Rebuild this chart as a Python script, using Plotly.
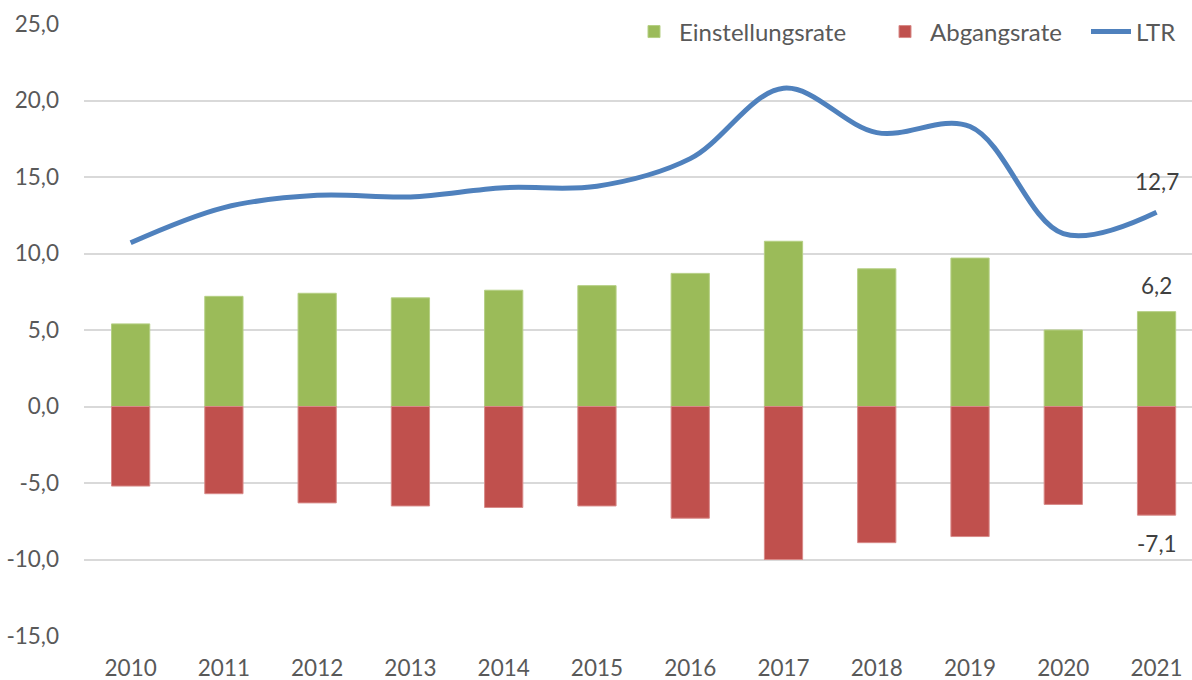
import plotly.graph_objects as go

years = ["2010", "2011", "2012", "2013", "2014", "2015", "2016", "2017", "2018", "2019", "2020", "2021"]
einstellungsrate = [5.4, 7.2, 7.4, 7.1, 7.6, 7.9, 8.7, 10.8, 9.0, 9.7, 5.0, 6.2]
abgangsrate = [-5.2, -5.7, -6.3, -6.5, -6.6, -6.5, -7.3, -10.0, -8.9, -8.5, -6.4, -7.1]
ltr = [10.7, 13.0, 13.8, 13.7, 14.3, 14.4, 16.2, 20.8, 17.9, 18.3, 11.3, 12.7]
y_tick_values = [-15, -10, -5, 0, 5, 10, 15, 20, 25]
y_tick_labels = ["-15,0", "-10,0", "-5,0", "0,0", "5,0", "10,0", "15,0", "20,0", "25,0"]

FAM = "Lato, Open Sans, sans-serif"
font = dict(family=FAM, size=22.5, color="#595959")
legfont = dict(family=FAM, size=24, color="#595959")
lfont = dict(family=FAM, size=22.5, color="#404040")

fig = go.Figure()
fig.add_trace(go.Bar(
    x=years, y=einstellungsrate, name="Einstellungsrate", legend="legend",
    marker=dict(color="#9BBB59", line=dict(color="#B5CF84", width=1)),
))
fig.add_trace(go.Bar(
    x=years, y=abgangsrate, name="Abgangsrate", legend="legend2",
    marker=dict(color="#C0504D", line=dict(color="#D88A88", width=1)),
))
fig.add_trace(go.Scatter(
    x=years, y=ltr, name="LTR", mode="lines", legend="legend3",
    line=dict(color="#4F81BD", width=5, shape="spline", smoothing=1.0),
))

def fmt(v):
    return f"{v:.1f}".replace(".", ",")

last = len(years) - 1
annos = [
    dict(y=ltr[-1], text=fmt(ltr[-1]), yshift=31),
    dict(y=einstellungsrate[-1], text=fmt(einstellungsrate[-1]), yshift=26),
    dict(y=abgangsrate[-1], text=fmt(abgangsrate[-1]), yshift=-28),
]
for a in annos:
    fig.add_annotation(x=last, **a, showarrow=False, font=lfont,
                       xanchor="center", yanchor="middle")

L, R = 84, 1192
def px(x):
    return (x - L) / (R - L)

leg_common = dict(orientation="h", xanchor="left", y=0.987, yanchor="middle",
                  bgcolor="white", font=legfont, itemwidth=40)

fig.update_layout(
    width=1192, height=680,
    margin=dict(l=L, r=0, t=24, b=44, autoexpand=False),
    paper_bgcolor="white", plot_bgcolor="white",
    barmode="relative", bargap=0.59,
    separators=",.",
    font=font,
    showlegend=True,
    legend=dict(x=px(629), **leg_common),
    legend2=dict(x=px(880), **leg_common),
    legend3=dict(x=px(1086), **leg_common),
    xaxis=dict(type="category", range=[-0.5, 11.38], showgrid=False,
               zeroline=False, showline=False,
               ticks="", ticklabelstandoff=16, tickfont=font),
    yaxis=dict(range=[-15, 25], tickmode="array", tickvals=y_tick_values,
               ticktext=y_tick_labels, showgrid=True,
               gridcolor="#D9D9D9", gridwidth=1.5, zeroline=True, zerolinecolor="#D9D9D9",
               zerolinewidth=1.5, showline=False, ticks="", ticklabelstandoff=24,
               tickfont=font),
)

fig.write_html("out.html", config={"displayModeBar": False},
               post_script="document.body.style.margin='0';")
